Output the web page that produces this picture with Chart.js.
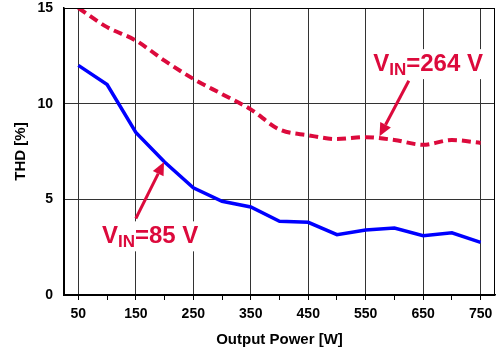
<!DOCTYPE html>
<html>
<head>
<meta charset="utf-8">
<script src="https://cdn.jsdelivr.net/npm/chart.js@4/dist/chart.umd.min.js"></script>
<style>
  html, body { margin: 0; padding: 0; background: #fff; }
  #wrap { width: 497px; height: 354px; }
</style>
</head>
<body>
<div id="wrap"><canvas id="thdChart"></canvas></div>
<script>
// Output power [W] and THD [%]
const powerW = [50, 100, 150, 200, 250, 300, 350, 400, 450, 500, 550, 600, 650, 700, 750];
const thd85V = [12.0, 11.0, 8.5, 6.95, 5.6, 4.9, 4.6, 3.85, 3.8, 3.15, 3.4, 3.5, 3.1, 3.25, 2.75];
const thd264V = [15.0, 14.0, 13.3, 12.25, 11.3, 10.5, 9.7, 8.65, 8.35, 8.15, 8.25, 8.1, 7.85, 8.1, 7.95];

// axis ticks
const xTicks = [50, 100, 150, 200, 250, 300, 350, 400, 450, 500, 550, 600, 650, 700, 750];
const xLabelled = [50, 150, 250, 350, 450, 550, 650, 750];
const yTicks = [0, 5, 10, 15];

const RED = '#dc0a3c';
const BLUE = '#0000ff';
const FONT = '"Liberation Sans", Arial, Helvetica, sans-serif';

// frame round the plot area (top / right edges)
const framePlugin = {
    id: 'frame',
    afterDraw(chart) {
        const { ctx, chartArea: a } = chart;
        ctx.save();
        ctx.strokeStyle = '#000';
        ctx.lineWidth = 1;
        ctx.strokeRect(a.left + 0.5, a.top + 0.5, a.right - a.left - 1, a.bottom - a.top);
        ctx.restore();
    }
};

// labels with arrows, placed in data coordinates
function drawArrow(ctx, x1, y1, x2, y2) {
    const ang = Math.atan2(y2 - y1, x2 - x1);
    const head = 13, half = 6;
    const bx = x2 - head * Math.cos(ang), by = y2 - head * Math.sin(ang);
    ctx.beginPath();
    ctx.moveTo(x1, y1);
    ctx.lineTo(bx, by);
    ctx.stroke();
    ctx.beginPath();
    ctx.moveTo(x2, y2);
    ctx.lineTo(bx + half * Math.sin(ang), by - half * Math.cos(ang));
    ctx.lineTo(bx - half * Math.sin(ang), by + half * Math.cos(ang));
    ctx.closePath();
    ctx.fill();
}

function drawVinLabel(ctx, x, y, volts) {
    const big = 'bold 24px ' + FONT, small = 'bold 17px ' + FONT;
    ctx.font = big;
    const wV = ctx.measureText('V').width;
    const wRest = ctx.measureText('=' + volts).width;
    ctx.font = small;
    const wIN = ctx.measureText('IN').width;
    const total = wV + wIN + wRest;
    ctx.fillStyle = '#fff';
    ctx.fillRect(x - 4, y - 22, total + 8, 30);
    ctx.fillStyle = RED;
    ctx.textBaseline = 'alphabetic';
    ctx.textAlign = 'left';
    ctx.font = big;
    ctx.fillText('V', x, y);
    ctx.font = small;
    ctx.fillText('IN', x + wV, y + 4);
    ctx.font = big;
    ctx.fillText('=' + volts, x + wV + wIN, y);
}

const notesPlugin = {
    id: 'notes',
    afterDatasetsDraw(chart) {
        const { ctx, scales: { x, y } } = chart;
        ctx.save();
        ctx.strokeStyle = RED;
        ctx.fillStyle = RED;
        ctx.lineWidth = 3;
        drawArrow(ctx, x.getPixelForValue(625), y.getPixelForValue(11.2),
                       x.getPixelForValue(574), y.getPixelForValue(8.3));
        drawArrow(ctx, x.getPixelForValue(150), y.getPixelForValue(4.0),
                       x.getPixelForValue(199), y.getPixelForValue(6.95));
        drawVinLabel(ctx, x.getPixelForValue(563), y.getPixelForValue(11.7), '264 V');
        drawVinLabel(ctx, x.getPixelForValue(91), y.getPixelForValue(2.7), '85 V');
        ctx.restore();
    }
};

const tickFont = { family: FONT, size: 14, weight: 'bold' };

new Chart(document.getElementById('thdChart'), {
    type: 'line',
    data: {
        datasets: [
            {
                label: 'VIN=85 V',
                data: powerW.map((p, i) => ({ x: p, y: thd85V[i] })),
                borderColor: BLUE,
                borderWidth: 3.5,
                pointRadius: 0,
                tension: 0
            },
            {
                label: 'VIN=264 V',
                data: powerW.map((p, i) => ({ x: p, y: thd264V[i] })),
                borderColor: RED,
                borderWidth: 4,
                borderDash: [9, 5],
                pointRadius: 0,
                cubicInterpolationMode: 'monotone'
            }
        ]
    },
    options: {
        responsive: true,
        maintainAspectRatio: false,
        animation: false,
        events: [],
        layout: { padding: { top: 8, right: 2, left: 0, bottom: 0 } },
        plugins: {
            legend: { display: false },
            tooltip: { enabled: false }
        },
        scales: {
            x: {
                type: 'linear',
                min: 25,
                max: 775,
                afterBuildTicks: s => { s.ticks = xTicks.map(v => ({ value: v })); },
                afterFit: s => { s.height = 59; s.paddingLeft = 0; s.paddingRight = 0; },
                grid: {
                    color: c => (c.tick && xLabelled.includes(c.tick.value)) ? '#333' : 'rgba(0,0,0,0)',
                    tickColor: '#000',
                    tickLength: 5,
                    lineWidth: 1
                },
                border: { color: '#000', width: 1.5 },
                ticks: {
                    color: '#000',
                    font: tickFont,
                    padding: 6,
                    maxRotation: 0,
                    autoSkip: false,
                    callback: v => xLabelled.includes(v) ? String(v) : ''
                },
                title: {
                    display: true,
                    text: 'Output Power [W]',
                    color: '#000',
                    font: { family: FONT, size: 15, weight: 'bold' },
                    padding: { top: 0, bottom: 5 }
                }
            },
            y: {
                min: 0,
                max: 15,
                afterBuildTicks: s => { s.ticks = yTicks.map(v => ({ value: v })); },
                afterFit: s => { s.width = 64; s.paddingTop = 0; s.paddingBottom = 0; },
                grid: {
                    color: '#333',
                    lineWidth: 1,
                    drawTicks: false
                },
                border: { color: '#000', width: 1.5 },
                ticks: {
                    color: '#000',
                    font: tickFont,
                    padding: 11
                },
                title: {
                    display: true,
                    text: 'THD [%]',
                    color: '#000',
                    font: { family: FONT, size: 15, weight: 'bold' },
                    padding: { top: 12, bottom: 0 }
                }
            }
        }
    },
    plugins: [framePlugin, notesPlugin]
});
</script>
</body>
</html>
